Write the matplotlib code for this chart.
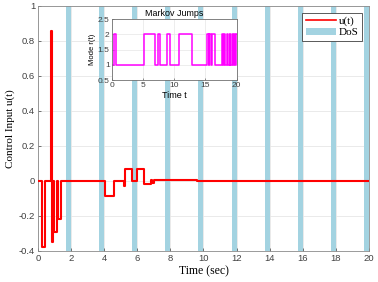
import matplotlib
matplotlib.use("Agg")
import matplotlib.pyplot as plt
import numpy as np
from matplotlib.patches import Patch
from matplotlib.lines import Line2D

# ---- data ----
# control input u(t): piecewise constant (step, 'post')
u_times = [0, 0.24, 0.42, 0.78, 0.85, 0.93, 0.99, 1.13, 1.19, 1.40, 4.02, 4.60, 5.20, 5.25,
           5.68, 5.98, 6.42, 6.82, 6.92, 7.00, 7.10, 9.60, 20.0]
u_values = [0, -0.375, 0, 0.855, -0.35, 0, -0.29, 0, -0.22, 0, -0.087, 0, -0.03, 0.07,
            0, 0.07, -0.017, 0.008, -0.012, 0.006, 0.004, 0.0, 0.0]

# DoS attack intervals (start, end)
dos_start = [1.7, 3.7, 5.7, 7.7, 9.7, 11.7, 13.7, 15.7, 17.7, 19.7]
dos_end = [2.0, 4.0, 6.0, 8.0, 10.0, 12.0, 14.0, 16.0, 18.0, 20.0]

# Markov mode r(t)
mode_times = [0, 0.4, 0.7, 5.2, 6.9, 7.4, 7.8, 8.9, 9.4, 10.7, 12.8, 15.3, 15.5, 15.6, 15.9,
              16.0, 16.5, 17.6, 17.8, 18.0, 18.2, 18.5, 18.6, 18.9, 19.0, 19.2, 19.4, 19.6,
              19.7, 19.9, 20.0]
mode_values = [1, 2, 1, 2, 1, 2, 1, 2, 1, 2, 1, 2, 1, 2, 1,
               2, 1, 2, 1, 2, 1, 2, 1, 2, 1, 2, 1, 2,
               1, 2, 2]

x_ticks = [0, 2, 4, 6, 8, 10, 12, 14, 16, 18, 20]
y_ticks = [-0.4, -0.2, 0, 0.2, 0.4, 0.6, 0.8, 1]
y_tick_labels = ["-0.4", "-0.2", "0", "0.2", "0.4", "0.6", "0.8", "1"]
inset_x_ticks = [0, 5, 10, 15, 20]
inset_y_ticks = [0.5, 1, 1.5, 2, 2.5]
inset_y_labels = ["0.5", "1", "1.5", "2", "2.5"]

# ---- figure ----
sans = "Liberation Sans"
serif = "Liberation Serif"
fig = plt.figure(figsize=(3.78, 2.82), dpi=100)
ax = fig.add_axes([0.1005, 0.110, 0.8755, 0.869])

dos_color = "#a3d3e1"
for s, e in zip(dos_start, dos_end):
    ax.axvspan(s, e, color=dos_color, lw=0, zorder=1)

ax.step(u_times, u_values, where="post", color="red", lw=1.5, zorder=3)

ax.set_xlim(0, 20)
ax.set_ylim(-0.4, 1)
ax.set_xticks(x_ticks)
ax.set_xticklabels([str(v) for v in x_ticks], fontfamily=sans, fontsize=6.8)
ax.set_yticks(y_ticks)
ax.set_yticklabels(y_tick_labels, fontfamily=sans, fontsize=6.8)
ax.grid(True, color="#e6e6e6", lw=0.6, zorder=0)
ax.set_axisbelow(True)
ax.tick_params(direction="in", length=2, width=0.5, colors="#404040", pad=2)
for sp in ax.spines.values():
    sp.set_color("#8a8a8a")
    sp.set_linewidth(0.6)
ax.set_xlabel("Time (sec)", fontfamily=serif, fontsize=8.5, labelpad=2)
ax.set_ylabel("Control Input u(t)", fontfamily=serif, fontsize=8, labelpad=3)

handles = [Line2D([0], [0], color="red", lw=1.2),
           Patch(facecolor=dos_color, edgecolor="none")]
leg = ax.legend(handles, ["u(t)", "DoS"], loc="upper right", prop={"family": serif, "size": 8},
                frameon=True, fancybox=False, edgecolor="#404040", framealpha=1,
                borderaxespad=0.6, handlelength=2.7, handletextpad=0.3, borderpad=0.3,
                labelspacing=0.15)
leg.get_frame().set_linewidth(0.6)
leg.set_zorder(10)

# ---- inset ----
ins = fig.add_axes([0.2955, 0.716, 0.3307, 0.216])
ins.step(mode_times, mode_values, where="post", color="#ff00ff", lw=1.1)
ins.set_xlim(0, 20)
ins.set_ylim(0.5, 2.5)
ins.set_xticks(inset_x_ticks)
ins.set_xticklabels([str(v) for v in inset_x_ticks], fontfamily=sans, fontsize=6)
ins.set_yticks(inset_y_ticks)
ins.set_yticklabels(inset_y_labels, fontfamily=sans, fontsize=6)
ins.grid(True, color="#e6e6e6", lw=0.5)
ins.set_axisbelow(True)
ins.tick_params(direction="in", length=1.5, width=0.4, colors="#404040", pad=1.5)
for sp in ins.spines.values():
    sp.set_color("#707070")
    sp.set_linewidth(0.6)
ins.set_title("Markov Jumps", fontfamily=sans, fontsize=6.4, pad=2)
ins.set_xlabel("Time t", fontfamily=sans, fontsize=6.5, labelpad=1)
ins.set_ylabel("Mode r(t)", fontfamily=sans, fontsize=5.5, labelpad=1)

fig.savefig("out.png", dpi=100)
